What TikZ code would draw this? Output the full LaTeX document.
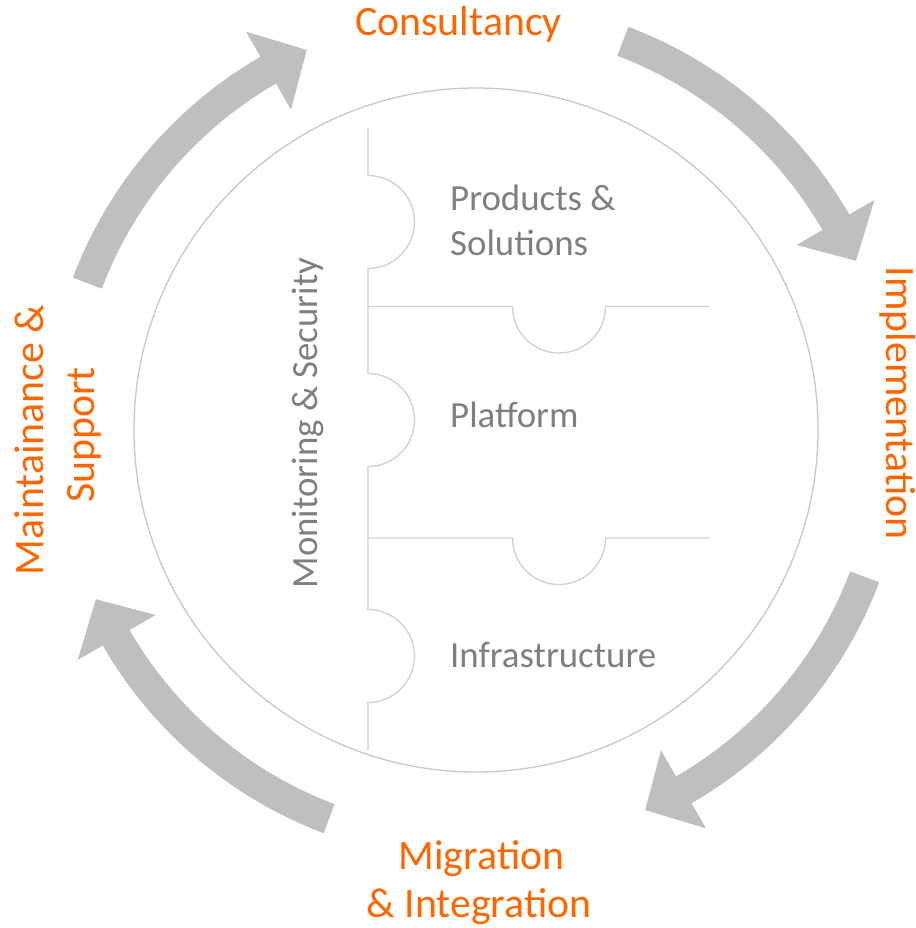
\documentclass[tikz,border=0pt]{standalone}
\usepackage{fontspec}
\setmainfont{Carlito}
\usetikzlibrary{calc}
\definecolor{orng}{RGB}{255,102,0}
\definecolor{txtgrey}{RGB}{127,127,127}
\definecolor{arrgrey}{RGB}{190,191,193}
\definecolor{ringgrey}{RGB}{200,200,200}
\definecolor{linegrey}{RGB}{208,208,210}
\begin{document}
\begin{tikzpicture}[x=1bp,y=-1bp,
  inner/.style={font=\fontsize{37pt}{44pt}\selectfont, text=txtgrey, inner sep=0pt},
  outer/.style={font=\fontsize{42pt}{50pt}\selectfont, text=orng, inner sep=0pt},
  ring/.style={draw=ringgrey, line width=1.3bp},
  puzzle/.style={draw=linegrey, line width=1.3bp},
  cyclearrow/.style={fill=arrgrey, draw=none}]
\useasboundingbox (0,0) rectangle (916,928);
\coordinate (C) at (476,430);
\draw[ring] (C) circle [radius=342];
% cycle arrows
\foreach \k in {0,1,2,3}{
  \pgfmathsetmacro{\at}{-69.3+90*\k}
  \pgfmathsetmacro{\ab}{-30+90*\k}
  \pgfmathsetmacro{\ap}{-24+90*\k}
  \fill[cyclearrow] ($(C)+(\at:431)$) arc[start angle=\at, end angle=\ab, radius=431]
    -- ($(C)+(\ab:460)$) -- ($(C)+(\ap:416)$) -- ($(C)+(\ab:370)$) -- ($(C)+(\ab:400)$)
    arc[start angle=\ab, end angle=\at, radius=400] -- cycle;
}
% puzzle lines
\draw[puzzle] (368,128) -- (368,175.5) arc[start angle=-90, end angle=90, radius=46.5]
  -- (368,373.5) arc[start angle=-90, end angle=90, radius=46.5]
  -- (368,609.5) arc[start angle=-90, end angle=90, radius=46.5] -- (368,750);
\draw[puzzle] (368,306.5) -- (512.5,306.5) arc[start angle=180, end angle=0, radius=46.5] -- (709,306.5);
\draw[puzzle] (368,538) -- (512.5,538) arc[start angle=180, end angle=0, radius=46.5] -- (709,538);
% inner texts
\node[inner, anchor=base west] (prod) at (450,210) {Products \&};
\node[inner, anchor=base west] (sol) at (450,255) {Solutions};
\node[inner, anchor=base west] (plat) at (450,427) {Platform};
\node[inner, anchor=base west] (infra) at (450,667) {Infrastructure};
\node[inner, anchor=base, rotate=90] (mon) at (317.5,423) {Monitoring \& Security};
% outer labels
\node[outer, anchor=base] (cons) at (458.5,35) {Consultancy};
\node[outer, anchor=base, rotate=-90] (impl) at (886,403) {Implementation};
\node[outer, anchor=base, rotate=90] (maint) at (43,440) {Maintainance \&};
\node[outer, anchor=base, rotate=90] (supp) at (94,435) {Support};
\node[outer, anchor=base] (migr) at (481.5,869) {Migration};
\node[outer, anchor=base] (integ) at (479,917) {\& Integration};
\end{tikzpicture}
\end{document}
